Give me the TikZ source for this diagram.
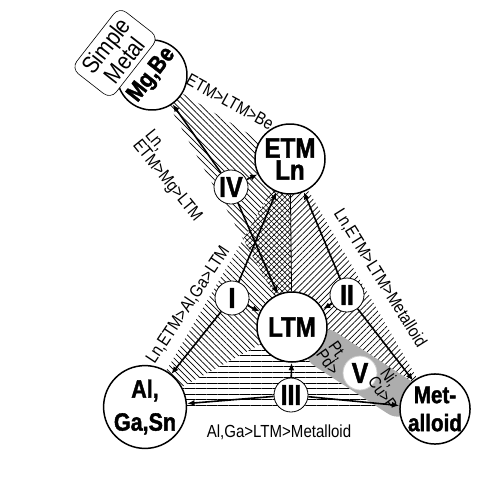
\documentclass[tikz,border=0pt]{standalone}
\usepackage{fontspec}
\setmainfont{Liberation Sans}[FakeStretch=0.86,BoldFeatures={FakeBold=1.5}]
\usetikzlibrary{patterns.meta,arrows.meta}

\tikzset{
	big/.style={circle,draw,line width=1.5pt,fill=white,minimum size=70pt,inner sep=0pt,align=center},
	small/.style={circle,draw,line width=0.8pt,fill=white,minimum size=34pt,inner sep=0pt,font=\fontsize{29}{29}\selectfont\bfseries},
	arr/.style={line width=1.6pt,-{Latex[length=7.5pt,width=6pt]}},
	elabel/.style={inner sep=0pt,font=\fontsize{17.5}{16}\selectfont},
	hatchnw/.style={pattern={Lines[angle=-45,distance=4.3pt,line width=0.7pt]}},
	hatchne/.style={pattern={Lines[angle=45,distance=4.3pt,line width=0.7pt]}},
	hatchh/.style={pattern={Lines[angle=0,distance=5.5pt,line width=0.8pt]}},
}

\begin{document}
\begin{tikzpicture}[x=1pt,y=-1pt]
	\useasboundingbox (0,0) rectangle (495,482);
	
	%CENTRES
	\coordinate (pmg)  at (152,75);
	\coordinate (petm) at (290,159);
	\coordinate (pltm) at (292,327);
	\coordinate (pal)  at (145,407);
	\coordinate (pmet) at (435,409);
	
	%HATCHED REGIONS
	\path[hatchnw] (pmg)--(petm)--(pltm)--cycle;
	\path[hatchnw] (pal)--(petm)--(pltm)--cycle;
	\path[hatchne] (petm)--(pmet)--(pltm)--cycle;
	\path[hatchh]  (pal)--(pltm)--(pmet)--cycle;
	%overlap of IV and I
	\coordinate (px) at (intersection of pmg--pltm and pal--petm);
	\fill[white] (petm)--(px)--(pltm)--cycle;
	\path[pattern={Lines[angle=45,distance=3.8pt,line width=0.6pt]}] (petm)--(px)--(pltm)--cycle;
	\path[pattern={Lines[angle=-45,distance=3.8pt,line width=0.6pt]}] (petm)--(px)--(pltm)--cycle;
	
	%GRAY BAND
	\node[fill=black!32,rounded corners=18pt,minimum width=124pt,minimum height=40pt,rotate=-33] (band) at (362,373) {};
	
	%MAIN CIRCLES
	\node[big,rotate=52,font=\fontsize{24}{24}\selectfont\bfseries] (mg) at (pmg) {Mg,Be};
	\node[big,font=\fontsize{28}{22}\selectfont\bfseries] (etm) at (petm) {ETM\\Ln};
	\node[big,font=\fontsize{28}{22}\selectfont\bfseries] (ltm) at (pltm) {LTM};
	\node[big,font=\fontsize{25}{33}\selectfont\bfseries] (al)  at (pal)  {Al,\\Ga,Sn};
	\node[big,font=\fontsize{24}{28}\selectfont\bfseries] (met) at (pmet) {Met-\\alloid};
	
	%SIMPLE METAL
	\node[draw,fill=white,line width=0.6pt,rounded corners=9pt,rotate=52,minimum width=78pt,minimum height=50pt,
		align=center,inner sep=1pt,font=\fontsize{24}{21}\selectfont] (simple) at (115,53) {Simple\\Metal};
	
	%SMALL CIRCLES
	\node[small] (iv)  at (231,187) {IV};
	\node[small] (i)   at (232,298) {I};
	\node[small] (ii)  at (347,295) {II};
	\node[small] (iii) at (291,395) {III};
	\node[small,draw=black!20] (v) at (360,373) {V};
	
	\draw[line width=0.8pt] (etm)--(ltm);
	
	%ARROWS
	\foreach \a/\b in {iv/mg,iv/etm,iv/ltm,i/etm,i/ltm,i/al,ii/etm,ii/ltm,ii/met,iii/al,iii/ltm,iii/met}{
		\draw[arr] (\a)--(\b);
	}
	
	%EDGE LABELS
	\node[elabel,rotate=-29] (lbtop) at (230,102) {ETM>LTM>Be};
	\node[elabel,rotate=-51,align=left] (lbmg) at (173,176) {Ln,\\ETM>Mg>LTM};
	\node[elabel,rotate=56.5] (lbal) at (188,305) {Ln,ETM>Al,Ga>LTM};
	\node[elabel,rotate=-58] (lbmet) at (380,278) {Ln,ETM>LTM>Metalloid};
	\node[elabel] (lbbot) at (279,432) {Al,Ga>LTM>Metalloid};
	%
	\node[elabel,rotate=-55,align=left,font=\fontsize{17}{15}\selectfont] (lbpt) at (334,358) {Pt,\\Pd>};
	\node[elabel,rotate=-55,align=left,font=\fontsize{17}{15}\selectfont] (lbni) at (389,389) {Ni,\\Cu>P};
\end{tikzpicture}
\end{document}
